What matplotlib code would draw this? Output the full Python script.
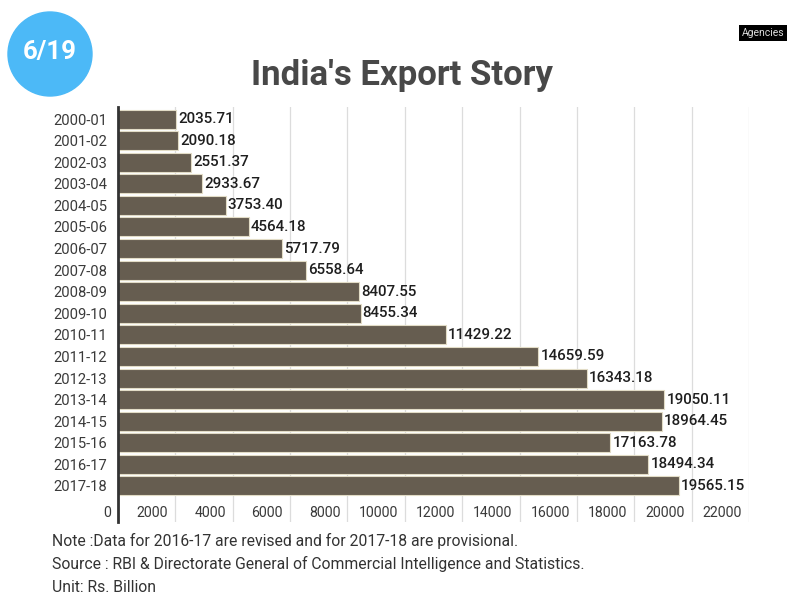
import matplotlib
matplotlib.use("Agg")
import matplotlib.pyplot as plt
import matplotlib.transforms as mtransforms
from matplotlib.patches import Ellipse

plt.rcParams['font.family'] = ['Roboto', 'DejaVu Sans']

# Exports by financial year (Rs. Billion)
years = ['2000-01', '2001-02', '2002-03', '2003-04', '2004-05', '2005-06',
         '2006-07', '2007-08', '2008-09', '2009-10', '2010-11', '2011-12',
         '2012-13', '2013-14', '2014-15', '2015-16', '2016-17', '2017-18']
exports = [2035.71, 2090.18, 2551.37, 2933.67, 3753.40, 4564.18,
           5717.79, 6558.64, 8407.55, 8455.34, 11429.22, 14659.59,
           16343.18, 19050.11, 18964.45, 17163.78, 18494.34, 19565.15]
xticks = list(range(0, 22001, 2000))

notes = [
    "Note :Data for 2016-17 are revised and for 2017-18 are provisional.",
    "Source : RBI & Directorate General of Commercial Intelligence and Statistics.",
    "Unit: Rs. Billion",
]

W, H = 790, 594
fig = plt.figure(figsize=(W / 100, H / 100), dpi=100)
fig.patch.set_facecolor('white')

# axes box in pixels: left 118, right 749, top 107, bottom 522
ax = fig.add_axes([118 / W, 1 - 522 / H, (749 - 118) / W, (522 - 107) / H])

pos = list(range(len(years)))
ax.barh(pos, exports, height=0.88, color='#665d50', edgecolor='#e2dcc6',
        linewidth=0.8, zorder=2)
for p, v in zip(pos, exports):
    ax.annotate(f"{v:.2f}", xy=(v, p), xytext=(1.5, 0), textcoords='offset points',
                va='center', ha='left', fontsize=10.9, fontweight='medium',
                color='#1e1e1e')

ax.set_xlim(0, 22000)
ax.set_ylim(len(years) - 1 + 1.67, -0.56)
ax.set_yticks(pos)
ax.set_yticklabels(years, fontsize=10.6, color='#3a3a3a')
ax.tick_params(axis='y', length=0, pad=8)

ax.set_xticks(xticks)
ax.set_xticklabels([str(t) for t in xticks], fontsize=10.2, color='#3a3a3a')
ax.tick_params(axis='x', length=0, pad=-11.5)
shift = mtransforms.ScaledTranslation(-7 / 100, 0, fig.dpi_scale_trans)
for lab in ax.get_xticklabels():
    lab.set_horizontalalignment('right')
    lab.set_transform(lab.get_transform() + shift)

ax.grid(axis='x', color='#dcdcdc', linewidth=0.9, zorder=0)
ax.set_axisbelow(True)
for side in ['top', 'right', 'bottom']:
    ax.spines[side].set_visible(False)
ax.spines['left'].set_color('#333333')
ax.spines['left'].set_linewidth(2)
ax.spines['left'].set_zorder(3)
ax.set_facecolor('white')

fig.text(402 / W, 1 - 75 / H, "India's Export Story", ha='center', va='center',
         fontsize=25, fontweight='bold', color='#484848')

# page badge
fig.patches.append(Ellipse((50 / W, 1 - 54 / H), 84 / W, 84 / H,
                           transform=fig.transFigure, color='#4cb9f7'))
fig.text(50 / W, 1 - 52 / H, "6/19", ha='center', va='center', fontsize=18.5,
         fontweight='bold', color='white')

fig.text(763 / W, 1 - 33 / H, "Agencies", ha='center', va='center', fontsize=7.5,
         color='#dddddd', bbox=dict(facecolor='black', edgecolor='none', pad=2))

for i, line in enumerate(notes):
    fig.text(52 / W, 1 - (541 + 23 * i) / H, line, ha='left', va='center',
             fontsize=11.3, color='#333333')

fig.savefig('out.png', dpi=100)
